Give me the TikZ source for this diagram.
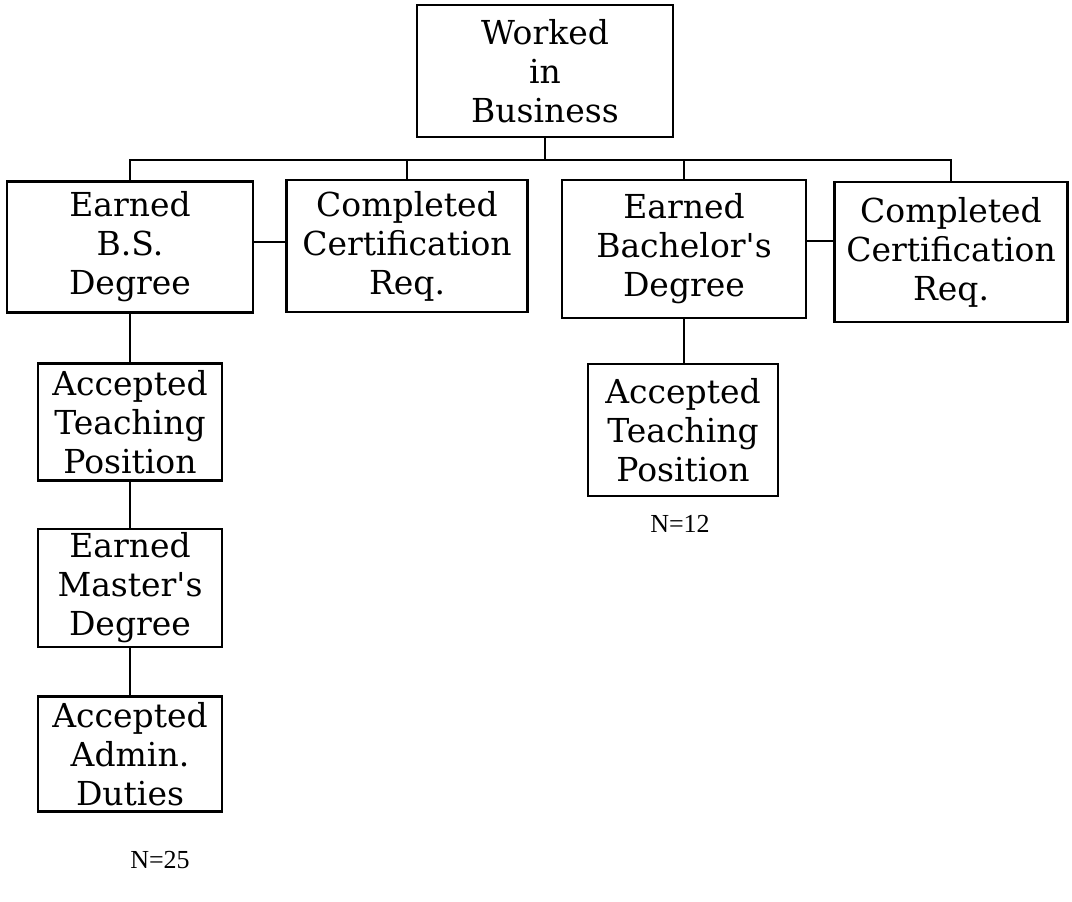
\documentclass[tikz,border=0pt]{standalone}
\usepackage{fontspec}
\setmainfont{DejaVu Serif}
\newfontfamily\nfont{Liberation Serif}

\begin{document}
\begin{tikzpicture}[x=0.5pt,y=-0.5pt,line width=1.2pt,
  box/.style={draw,rectangle,inner sep=0pt,align=center,font=\fontsize{16.5}{19.5}\selectfont}]
\useasboundingbox (0,0) rectangle (1072,901);
\draw (545,71) node[box,minimum width=128pt,minimum height=66pt](worked) {Worked\\in\\Business};
\draw (130,247) node[box,minimum width=123pt,minimum height=65.5pt](bs) {Earned\\B.S.\\Degree};
\draw (407,246) node[box,minimum width=120.5pt,minimum height=66pt](certa) {Completed\\Certification\\Req.};
\draw (684,249) node[box,minimum width=122pt,minimum height=69pt](bach) {Earned\\Bachelor\textquotesingle s\\Degree};
\draw (951,252) node[box,minimum width=116.5pt,minimum height=70pt](certb) {Completed\\Certification\\Req.};
\draw (130,422) node[box,minimum width=92pt,minimum height=58.5pt](teacha) {Accepted\\Teaching\\Position};
\draw (130,588) node[box,minimum width=92pt,minimum height=59pt](masters) {Earned\\Master\textquotesingle s\\Degree};
\draw (130,754) node[box,minimum width=92pt,minimum height=57.5pt](admin) {Accepted\\Admin.\\Duties};
\draw (683,430) node[box,minimum width=95pt,minimum height=66pt](teachb) {Accepted\\Teaching\\Position};
\draw (160,860) node[font=\nfont\fontsize{13}{15}\selectfont](nleft) {N=25};
\draw (680,524) node[font=\nfont\fontsize{13}{15}\selectfont](nright) {N=12};
\coordinate (bus) at (545,160);
\draw (worked.south) -- (bus);
\draw (bs.north) -- (bs.north |- bus) -- (certb.north |- bus) -- (certb.north);
\draw (certa.north) -- (certa.north |- bus);
\draw (bach.north) -- (bach.north |- bus);
\draw (bs.east) ++(0,-5) coordinate (linka) -- (linka -| certa.west);
\draw (bach.east) ++(0,-8) coordinate (linkb) -- (linkb -| certb.west);
\draw (bs) -- (teacha);
\draw (teacha) -- (masters);
\draw (masters) -- (admin);
\draw (bach.south) -- (bach.south |- teachb.north);
\end{tikzpicture}
\end{document}
